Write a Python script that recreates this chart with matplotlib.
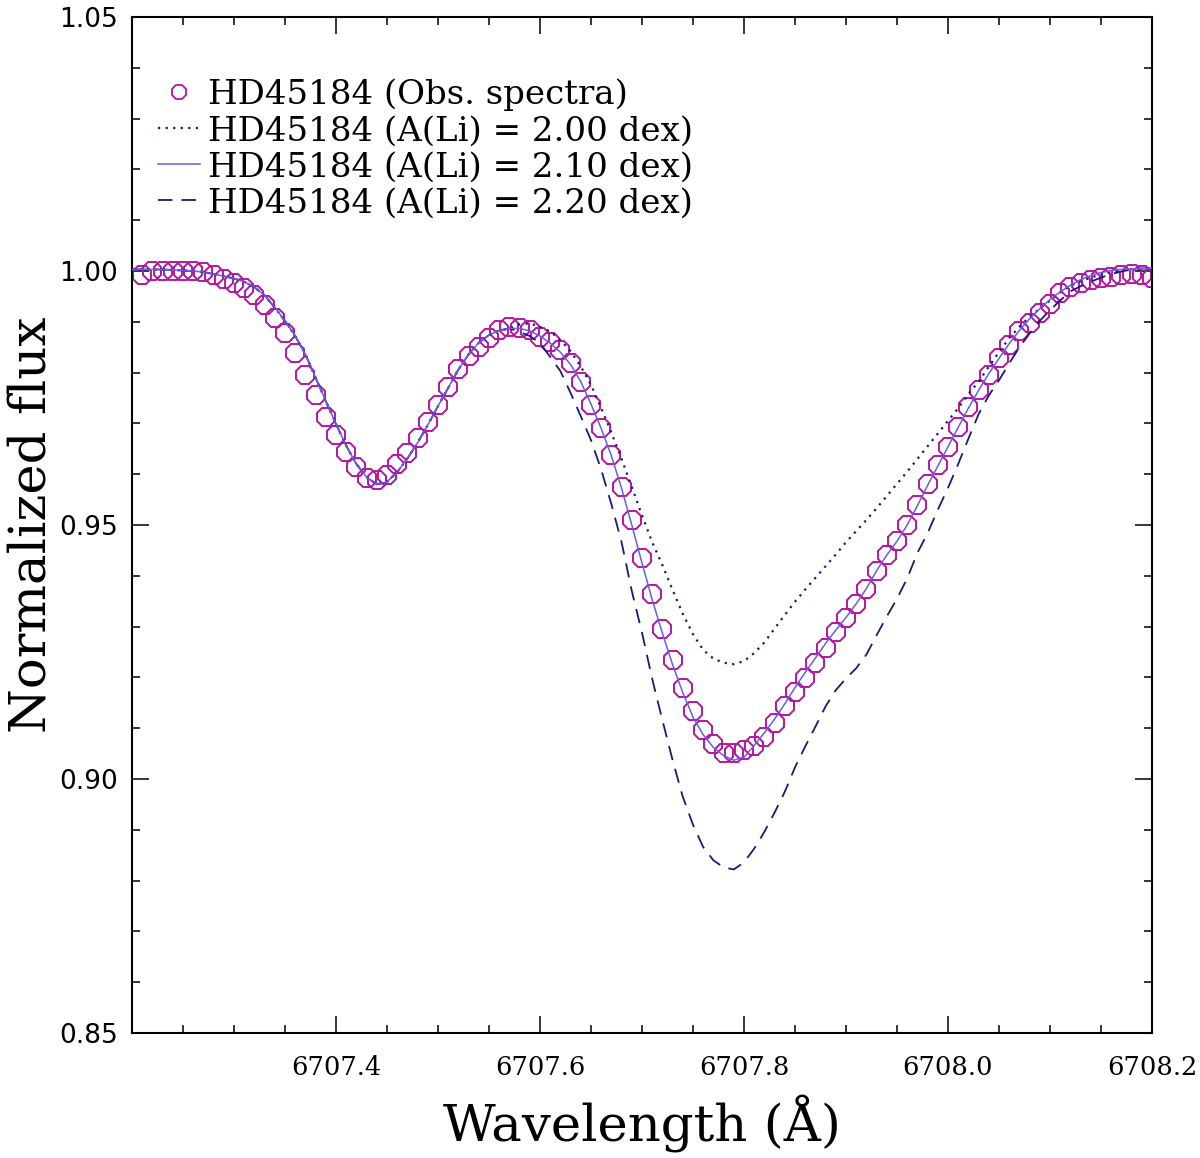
import numpy as np
import matplotlib
matplotlib.use("Agg")
import matplotlib.pyplot as plt
from matplotlib.lines import Line2D
from matplotlib.ticker import MultipleLocator, FixedLocator, FormatStrFormatter

# ---------------- data ----------------
# observed spectrum, sampled every 0.01 A from 6707.21 to 6708.20
obs_wave = np.round(np.arange(6707.21, 6708.205, 0.01), 2)
obs_flux = [
    0.9993, 1.0000, 1.0000, 1.0000, 1.0000, 1.0000, 0.9999, 0.9992, 0.9984, 0.9976,
    0.9966, 0.9953, 0.9933, 0.9907, 0.9877, 0.9838, 0.9795, 0.9755, 0.9713, 0.9677,
    0.9644, 0.9615, 0.9592, 0.9589, 0.9598, 0.9621, 0.9642, 0.9671, 0.9703, 0.9736,
    0.9772, 0.9808, 0.9833, 0.9851, 0.9869, 0.9884, 0.9890, 0.9887, 0.9884, 0.9870,
    0.9861, 0.9844, 0.9818, 0.9782, 0.9736, 0.9690, 0.9638, 0.9575, 0.9510, 0.9436,
    0.9364, 0.9295, 0.9234, 0.9180, 0.9134, 0.9096, 0.9069, 0.9052, 0.9052, 0.9057,
    0.9065, 0.9082, 0.9110, 0.9144, 0.9172, 0.9199, 0.9228, 0.9257, 0.9290, 0.9316,
    0.9344, 0.9375, 0.9410, 0.9441, 0.9468, 0.9501, 0.9540, 0.9580, 0.9618, 0.9654,
    0.9693, 0.9732, 0.9766, 0.9795, 0.9828, 0.9854, 0.9881, 0.9897, 0.9917, 0.9936,
    0.9956, 0.9968, 0.9976, 0.9982, 0.9986, 0.9989, 0.9992, 0.9994, 0.9992, 0.9986,
]

# synthetic spectra, sampled every 0.01 A from 6707.20 to 6708.20
model_wave = np.round(np.arange(6707.20, 6708.205, 0.01), 2)
# part common to all three syntheses (6707.20 - 6707.57)
model_common = [
    1.0003, 1.0003, 1.0003, 1.0003, 1.0002, 1.0001, 1.0000, 0.9998, 0.9994, 0.9990,
    0.9985, 0.9979, 0.9968, 0.9952, 0.9928, 0.9902, 0.9872, 0.9836, 0.9790, 0.9744,
    0.9699, 0.9656, 0.9620, 0.9594, 0.9580, 0.9585, 0.9604, 0.9631, 0.9662, 0.9697,
    0.9734, 0.9770, 0.9806, 0.9836, 0.9859, 0.9874, 0.9883, 0.9887,
]
# Li region (6707.58 - 6708.20)
model_li200 = [
    0.9895, 0.9897, 0.9890, 0.9881, 0.9864, 0.9842, 0.9812, 0.9776, 0.9730, 0.9682,
    0.9630, 0.9575, 0.9519, 0.9466, 0.9421, 0.9372, 0.9325, 0.9285, 0.9254, 0.9237,
    0.9229, 0.9226, 0.9232, 0.9248, 0.9269, 0.9296, 0.9323, 0.9349, 0.9373, 0.9396,
    0.9419, 0.9442, 0.9466, 0.9488, 0.9510, 0.9533, 0.9557, 0.9581, 0.9605, 0.9630,
    0.9655, 0.9680, 0.9705, 0.9730, 0.9758, 0.9782, 0.9812, 0.9840, 0.9868, 0.9890,
    0.9910, 0.9926, 0.9942, 0.9958, 0.9971, 0.9980, 0.9987, 0.9993, 0.9998, 1.0002,
    1.0004, 1.0005, 1.0005,
]
model_li210 = [
    0.9887, 0.9882, 0.9872, 0.9858, 0.9840, 0.9816, 0.9782, 0.9738, 0.9690, 0.9636,
    0.9572, 0.9500, 0.9425, 0.9353, 0.9287, 0.9225, 0.9170, 0.9122, 0.9087, 0.9062,
    0.9046, 0.9037, 0.9043, 0.9066, 0.9091, 0.9118, 0.9148, 0.9180, 0.9210, 0.9238,
    0.9267, 0.9293, 0.9318, 0.9345, 0.9375, 0.9410, 0.9441, 0.9468, 0.9500, 0.9538,
    0.9578, 0.9616, 0.9654, 0.9692, 0.9730, 0.9765, 0.9798, 0.9828, 0.9857, 0.9883,
    0.9906, 0.9926, 0.9944, 0.9959, 0.9972, 0.9983, 0.9991, 0.9997, 1.0001, 1.0003,
    1.0004, 1.0005, 1.0005,
]
model_li220 = [
    0.9880, 0.9872, 0.9858, 0.9831, 0.9803, 0.9760, 0.9714, 0.9667, 0.9609, 0.9541,
    0.9466, 0.9370, 0.9288, 0.9197, 0.9116, 0.9037, 0.8965, 0.8910, 0.8866, 0.8840,
    0.8826, 0.8822, 0.8836, 0.8863, 0.8896, 0.8934, 0.8975, 0.9023, 0.9064, 0.9103,
    0.9143, 0.9175, 0.9198, 0.9218, 0.9245, 0.9283, 0.9320, 0.9355, 0.9395, 0.9445,
    0.9484, 0.9530, 0.9573, 0.9620, 0.9670, 0.9718, 0.9755, 0.9785, 0.9818, 0.9850,
    0.9877, 0.9902, 0.9923, 0.9942, 0.9960, 0.9970, 0.9979, 0.9987, 0.9994, 0.9999,
    1.0003, 1.0005, 1.0005,
]

labels = [
    "HD45184 (Obs. spectra)",
    "HD45184 (A(Li) = 2.00 dex)",
    "HD45184 (A(Li) = 2.10 dex)",
    "HD45184 (A(Li) = 2.20 dex)",
]
x_major = [6707.4, 6707.6, 6707.8, 6708.0, 6708.2]
y_major = [0.85, 0.90, 0.95, 1.00, 1.05]

# ---------------- styling ----------------
c_obs = "#b5169f"
c_dot = "#1a1a7a"
c_sol = "#6a5ce6"
c_dash = "#1a1a7a"

fig = plt.figure(figsize=(12, 11.58), dpi=100)
ax = fig.add_axes([0.11, 0.10794, 0.85, 0.87737])

ax.plot(obs_wave, obs_flux, ls="none", marker="8", ms=13.5, mfc="none",
        mec=c_obs, mew=1.4, zorder=2)
l1, = ax.plot(model_wave, model_common + model_li200, color=c_dot, lw=1.6,
              dashes=(1.0, 2.4), zorder=3, label=labels[1])
l2, = ax.plot(model_wave, model_common + model_li210, color=c_sol, lw=1.1,
              zorder=4, label=labels[2])
l3, = ax.plot(model_wave, model_common + model_li220, color=c_dash, lw=1.3,
              dashes=(8, 5), zorder=3, label=labels[3])

ax.set_xlim(6707.2, 6708.2)
ax.set_ylim(0.85, 1.05)

ax.xaxis.set_major_locator(FixedLocator(x_major))
ax.xaxis.set_minor_locator(MultipleLocator(0.05))
ax.xaxis.set_major_formatter(FormatStrFormatter("%.1f"))
ax.yaxis.set_major_locator(FixedLocator(y_major))
ax.yaxis.set_minor_locator(MultipleLocator(0.01))
ax.yaxis.set_major_formatter(FormatStrFormatter("%.2f"))

ax.tick_params(which="both", direction="in", top=True, right=True,
               width=1.1, color="black")
ax.tick_params(which="major", length=12)
ax.tick_params(which="minor", length=5.8)
ax.tick_params(axis="x", which="major", pad=16)
ax.tick_params(axis="y", which="major", pad=10)
for t in ax.get_xticklabels():
    t.set_fontfamily("DejaVu Serif")
    t.set_fontsize(18.5)
for t in ax.get_yticklabels():
    t.set_fontfamily("DejaVu Sans")
    t.set_fontsize(19)
for s in ax.spines.values():
    s.set_linewidth(1.5)

ax.set_xlabel("Wavelength (Å)", fontfamily="DejaVu Serif", fontsize=37,
              labelpad=10)
ax.set_ylabel("Normalized flux", fontfamily="DejaVu Serif", fontsize=37,
              labelpad=2)

obs_handle = Line2D([], [], ls="none", marker="8", ms=11, mfc="none",
                    mec=c_obs, mew=1.3)
leg = ax.legend([obs_handle, l1, l2, l3], labels, loc="upper left",
                bbox_to_anchor=(158 / 1200, 1 - 78.5 / 1158),
                bbox_transform=fig.transFigure, frameon=False,
                prop={"family": "DejaVu Serif", "size": 24.5},
                handlelength=1.22, handletextpad=0.24, labelspacing=0.12,
                borderpad=0.0, borderaxespad=0.0)

fig.savefig("out.png", dpi=100)
